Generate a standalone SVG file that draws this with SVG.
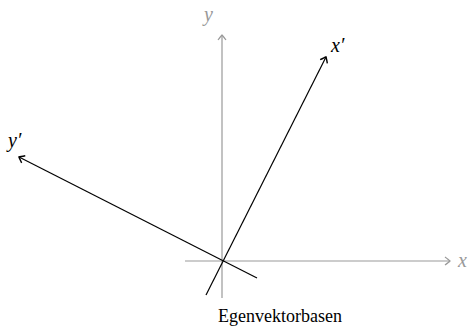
<svg xmlns="http://www.w3.org/2000/svg" width="475" height="329" viewBox="0 0 475 329">
<style>
.ax{stroke:#999;stroke-width:1.2;fill:none}
.vec{stroke:#000;stroke-width:1.2;fill:none}
.lbl{font-family:"Liberation Serif","Times New Roman",serif;font-style:italic;font-size:20px}
.g{fill:#999}
.cap{font-family:"Liberation Serif","Times New Roman",serif;font-size:18px;fill:#000}
</style>
<defs>
<marker id="ag" viewBox="-6 -5 8 10" refX="0" refY="0" markerWidth="8" markerHeight="10" markerUnits="userSpaceOnUse" orient="auto">
<path d="M-5,-4 Q-1,-1 0,0 Q-1,1 -5,4" stroke="#999" stroke-width="1.2" fill="none"/>
</marker>
<marker id="ab" viewBox="-6 -5 8 10" refX="0" refY="0" markerWidth="8" markerHeight="10" markerUnits="userSpaceOnUse" orient="auto">
<path d="M-5,-4 Q-1,-1 0,0 Q-1,1 -5,4" stroke="#000" stroke-width="1.4" fill="none"/>
</marker>
</defs>
<g id="connectors">
<line class="ax" x1="185" y1="261" x2="450" y2="261" marker-end="url(#ag)"/>
<line class="ax" x1="222" y1="298" x2="222" y2="35" marker-end="url(#ag)"/>
<line class="vec" x1="206" y1="295" x2="326" y2="57" marker-end="url(#ab)"/>
<line class="vec" x1="257" y1="278" x2="19" y2="157" marker-end="url(#ab)"/>
</g>
<g id="label-x"><text class="lbl g" x="458" y="267">x</text></g>
<g id="label-y"><text class="lbl g" x="204" y="21">y</text></g>
<g id="label-xp"><text class="lbl" x="331" y="52">x′</text></g>
<g id="label-yp"><text class="lbl" x="8" y="147">y′</text></g>
<g id="caption"><text class="cap" x="280" y="322" text-anchor="middle">Egenvektorbasen</text></g>
</svg>
